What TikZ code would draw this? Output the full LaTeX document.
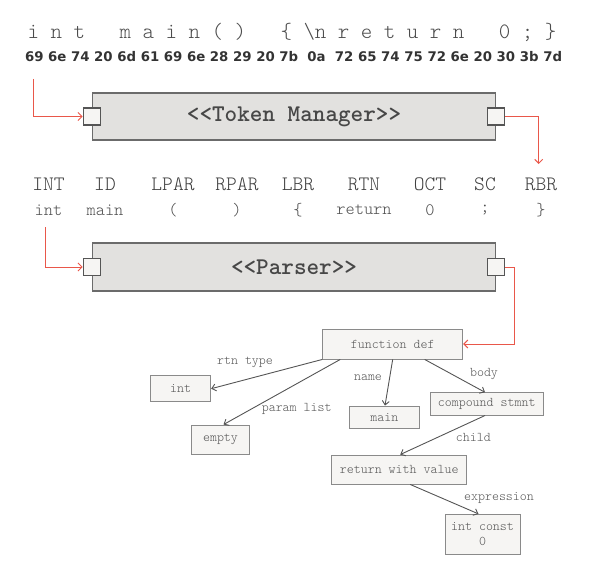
\documentclass[tikz,border=0pt]{standalone}
\usepackage{fontspec}
\setmainfont{Liberation Serif}
\newfontfamily\mono{Latin Modern Mono Light}
\newfontfamily\hexfont{DejaVu Sans}
\usetikzlibrary{arrows.meta}
\definecolor{redc}{HTML}{E9574A}
\definecolor{edgec}{HTML}{555555}
\definecolor{txtc}{HTML}{555555}
\definecolor{bigfill}{HTML}{E2E1DF}
\definecolor{smallfill}{HTML}{F6F5F3}
\definecolor{bigdraw}{HTML}{6B6B6B}
\definecolor{smalldraw}{HTML}{8A8A8A}
\tikzset{
  bigbox/.style={draw=bigdraw, fill=bigfill, line width=1.4pt, inner sep=0pt,
    font=\mono\bfseries\fontsize{24}{26}\selectfont, text=black!72},
  portbox/.style={draw=edgec, fill=smallfill, line width=1.2pt, minimum size=17pt, inner sep=0pt},
  treebox/.style={draw=smalldraw, fill=smallfill, line width=0.9pt, inner sep=0pt,
    font=\mono\fontsize{13.3}{15}\selectfont, text=txtc, align=center},
  elabel/.style={font=\mono\fontsize{13.3}{15}\selectfont, text=txtc, inner sep=0pt},
  tokname/.style={font=\mono\fontsize{20.5}{22}\selectfont, text=black!75, inner sep=0pt},
  tokval/.style={font=\mono\fontsize{17.5}{19}\selectfont, text=black!70, inner sep=0pt},
  redline/.style={draw=redc, line width=1pt, -{Straight Barb[length=4pt,width=8pt]}},
  treeedge/.style={draw=edgec, line width=0.9pt, -{Straight Barb[length=4pt,width=7pt]}}
}
\begin{document}
\begin{tikzpicture}[x=1pt,y=-1pt]
\useasboundingbox (0,0) rectangle (593,583);
% source text
\node[inner sep=0pt, font=\mono\fontsize{21.9}{24}\selectfont, text=black!70] (src) at (292,32)
  {i~n~t~~~m~a~i~n~(~)~~~\{~\textbackslash n~r~e~t~u~r~n~~~0~;~\}};
\node[inner sep=0pt, font=\hexfont\bfseries\fontsize{13.3}{16}\selectfont, text=black!80] (hex) at (293.5,57)
  {69 6e 74 20 6d 61 69 6e 28 29 20 7b\ \ 0a\ \ 72 65 74 75 72 6e 20 30 3b 7d};
% token manager
\node[bigbox, minimum width=403pt, minimum height=47pt] (tm) at (294,116.5) {<<Token Manager>>};
\node[portbox] (tmL) at (tm.west) {};
\node[portbox] (tmR) at (tm.east) {};
% tokens
\foreach \n/\x/\nm/\v in {t1/48.5/INT/int, t2/105/ID/main, t3/173/LPAR/(, t4/237/RPAR/), t5/298/LBR/\{, t6/364/RTN/return, t7/430/OCT/0, t8/485/SC/;, t9/541/RBR/\}}{
  \node[tokname] (\n) at (\x,184) {\nm};
  \node[tokval] (\n v) at (\x,210) {\v};
}
% parser
\node[bigbox, minimum width=403pt, minimum height=48pt] (ps) at (294,267) {<<Parser>>};
\node[portbox] (pL) at (ps.west) {};
\node[portbox] (pR) at (ps.east) {};
% tree
\node[treebox, minimum width=140pt, minimum height=30pt] (fd) at (392.7,344) {function def};
\node[treebox, minimum width=60pt, minimum height=26pt] (intn) at (180.7,388.7) {int};
\node[treebox, minimum width=57.6pt, minimum height=29pt] (empty) at (220.5,439.5) {empty};
\node[treebox, minimum width=70pt, minimum height=22.3pt] (mainn) at (384.3,417.2) {main};
\node[treebox, minimum width=113.3pt, minimum height=22.3pt] (cs) at (486.7,403.9) {compound stmnt};
\node[treebox, minimum width=135pt, minimum height=29pt] (rv) at (399.2,469.5) {return with value};
\node[treebox, minimum width=75pt, minimum height=39.7pt] (ic) at (482.5,534.2) {int const\\[0pt]0};
% red connectors
\coordinate (s1) at (33.5,79);
\coordinate (e1) at (538.7,164);
\coordinate (s2) at (45,227);
\coordinate (c2) at (514.3,344);
\draw[redline] (s1) |- (tmL.west);
\draw[redline] (tmR.east) -| (e1);
\draw[redline] (s2) |- (pL.west);
\draw[redline] (pR.east) -| (c2) -- (fd.east);
% tree edges
\draw[treeedge] (fd.south west) -- (intn.east);
\draw[treeedge] ([xshift=18pt]fd.south west) -- ([xshift=3pt]empty.north);
\draw[treeedge] (fd.south) -- ([xshift=0.7pt]mainn.north);
\draw[treeedge] ([xshift=32pt]fd.south) -- ([xshift=-1.7pt]cs.north);
\draw[treeedge] ([xshift=-1.7pt]cs.south) -- ([xshift=1pt]rv.north);
\draw[treeedge] ([xshift=11pt]rv.south) -- ([xshift=-4pt]ic.north);
\node[elabel] (l1) at (245,362.7) {rtn type};
\node[elabel] (l2) at (296.7,409.3) {param list};
\node[elabel] (l3) at (368,377.7) {name};
\node[elabel] (l4) at (484,374) {body};
\node[elabel] (l5) at (473.3,437.3) {child};
\node[elabel] (l6) at (499,498.3) {expression};
\end{tikzpicture}
\end{document}
